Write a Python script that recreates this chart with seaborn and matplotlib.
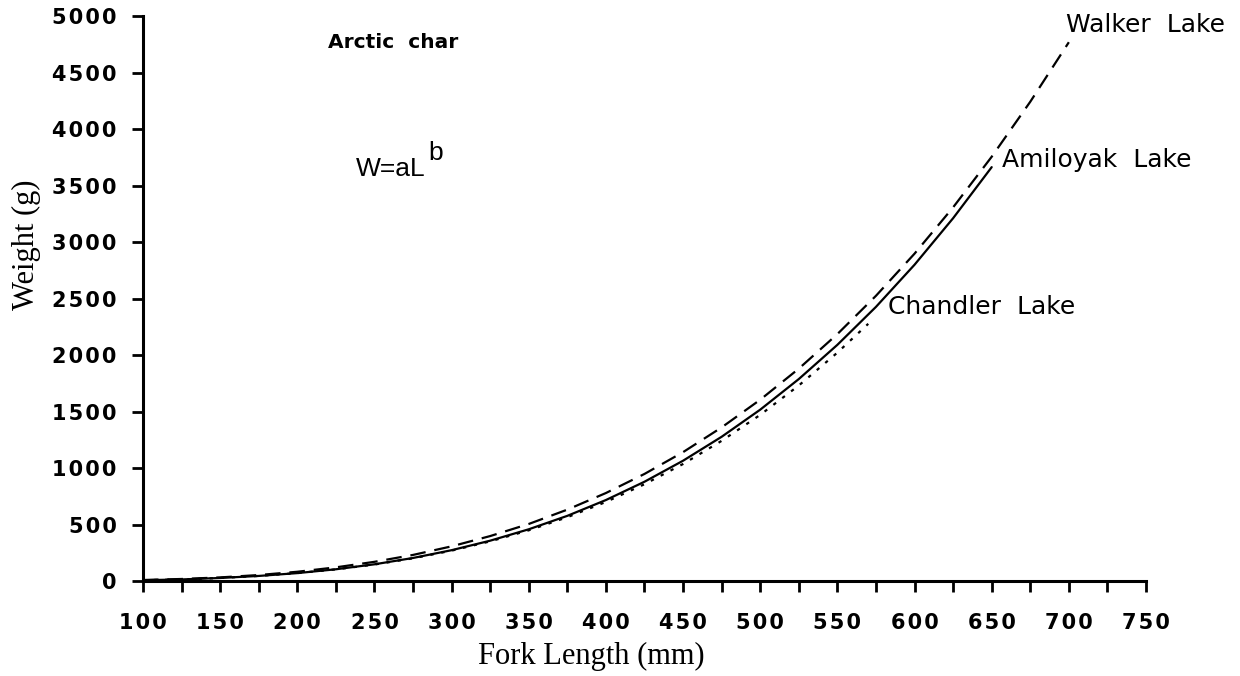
import matplotlib
matplotlib.use("Agg")
import matplotlib.pyplot as plt
import seaborn as sns
import pandas as pd
from matplotlib.ticker import MultipleLocator

# Data
walker_len = [100, 125, 150, 175, 200, 225, 250, 275, 300, 325, 350, 375, 400,
              425, 450, 475, 500, 525, 550, 575, 600, 625, 650, 675, 700]
walker_wt = [9, 18, 32, 53, 82, 121, 170, 231, 307, 398, 505, 632, 779,
             948, 1141, 1360, 1605, 1880, 2186, 2525, 2898, 3308, 3756, 4243, 4770]

amiloyak_len = [100, 125, 150, 175, 200, 225, 250, 275, 300, 325, 350, 375, 400,
                425, 450, 475, 500, 525, 550, 575, 600, 625, 650]
amiloyak_wt = [7, 14, 27, 45, 70, 104, 148, 204, 273, 357, 458, 577, 717,
               879, 1065, 1277, 1517, 1788, 2091, 2427, 2800, 3212, 3664]

chandler_len = [100, 125, 150, 175, 200, 225, 250, 275, 300, 325, 350, 375, 400,
                425, 450, 475, 500, 525, 550, 570]
chandler_wt = [7, 14, 27, 45, 70, 103, 146, 201, 269, 351, 449, 565, 700,
               857, 1036, 1241, 1471, 1731, 2022, 2277]

x_ticks = [100, 150, 200, 250, 300, 350, 400, 450, 500, 550, 600, 650, 700, 750]
y_ticks = [0, 500, 1000, 1500, 2000, 2500, 3000, 3500, 4000, 4500, 5000]

sns.set_style("white")
plt.rcParams['font.family'] = ['DejaVu Sans']
plt.rcParams['text.color'] = 'black'
plt.rcParams['axes.labelcolor'] = 'black'
plt.rcParams['xtick.color'] = 'black'
plt.rcParams['ytick.color'] = 'black'

fig = plt.figure(figsize=(12.4, 6.76), dpi=100)
ax = fig.add_axes([0.1153, 0.1405, 0.8089, 0.8355])

df_w = pd.DataFrame({"len": walker_len, "wt": walker_wt})
df_a = pd.DataFrame({"len": amiloyak_len, "wt": amiloyak_wt})
df_c = pd.DataFrame({"len": chandler_len, "wt": chandler_wt})

sns.lineplot(data=df_w, x="len", y="wt", ax=ax, color="black", lw=1.6,
             linestyle=(0, (7, 4)))
sns.lineplot(data=df_a, x="len", y="wt", ax=ax, color="black", lw=1.6)
sns.lineplot(data=df_c, x="len", y="wt", ax=ax, color="black", lw=1.6,
             linestyle=(0, (1.5, 3.5)))

ax.set_xlim(100, 750)
ax.set_ylim(0, 5000)
hair = "\u200a"
ax.set_xticks(x_ticks)
ax.set_xticklabels([hair.join(str(t)) for t in x_ticks])
ax.xaxis.set_minor_locator(MultipleLocator(25))
ax.set_yticks(y_ticks)
ax.set_yticklabels([hair.join(str(t)) for t in y_ticks])

for s in ["top", "right"]:
    ax.spines[s].set_visible(False)
for s in ["left", "bottom"]:
    ax.spines[s].set_color("black")
    ax.spines[s].set_linewidth(2.2)

ax.tick_params(axis="both", which="both", direction="out", color="black",
               width=2, length=8, bottom=True, left=True)
ax.tick_params(axis="x", which="major", pad=15)
ax.tick_params(axis="y", which="major", pad=11)
for lab in ax.get_xticklabels() + ax.get_yticklabels():
    lab.set_fontsize(15)
    lab.set_fontweight("bold")
    lab.set_color("black")

ax.set_xlabel("Fork Length (mm)", family=["Liberation Serif"], fontsize=22)
ax.set_ylabel("Weight (g)", family=["Liberation Serif"], fontsize=22)
ax.xaxis.set_label_coords(0.447, -0.133)
ax.xaxis.label.set_verticalalignment("center")
ax.yaxis.set_label_coords(-0.1157, 0.595)
ax.yaxis.label.set_verticalalignment("center")

ax.text(262, 4770, "Arctic  char", fontsize=14.5, fontweight="bold", ha="center", va="center")
ax.text(238, 3584, "W=aL", fontsize=19, family=["Liberation Sans"], ha="left", va="baseline")
ax.text(285, 3726, "b", fontsize=19, family=["Liberation Sans"], ha="left", va="baseline")
ax.text(698, 4925, "Walker  Lake", fontsize=18, ha="left", va="center")
ax.text(657, 3730, "Amiloyak  Lake", fontsize=18, ha="left", va="center")
ax.text(583, 2425, "Chandler  Lake", fontsize=18, ha="left", va="center")

fig.savefig("out.png", dpi=100)
